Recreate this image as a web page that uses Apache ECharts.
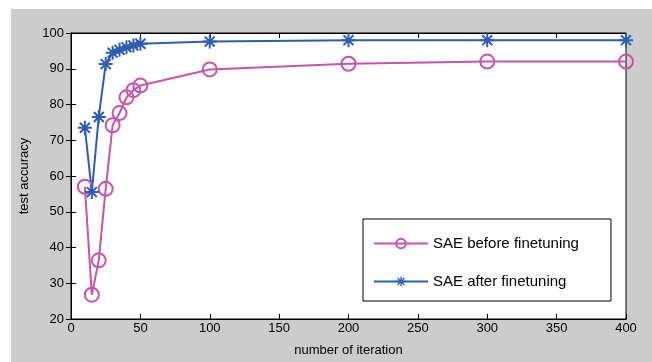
<!DOCTYPE html>
<html>
<head>
<meta charset="utf-8">
<script src="https://cdn.jsdelivr.net/npm/echarts@6/dist/echarts.min.js"></script>
<style>
  html, body { margin: 0; padding: 0; background: #fff; }
  #bg { position: absolute; left: 11px; top: 9px; width: 641px; height: 353px; background: #cccccc; }
  #chart { position: absolute; left: 0; top: 0; width: 652px; height: 362px; }
</style>
</head>
<body>
<div id="bg"></div>
<div id="chart"></div>
<script>
// values
const iterations = [10, 15, 20, 25, 30, 35, 40, 45, 50, 100, 200, 300, 400];
const beforeFinetune = [57, 26.8, 36.4, 56.4, 74.2, 77.6, 82, 84, 85.3, 89.8, 91.4, 92, 92];
const afterFinetune = [73.5, 55.5, 76.5, 91.3, 94.5, 95.3, 96, 96.5, 97, 97.6, 98, 98, 98];
const xTicks = [0, 400, 50];
const yTicks = [20, 100, 10];

const font = 'Liberation Sans, Arial, sans-serif';
// matlab style asterisk, 8 arms
const star = 'path://M8.6 0L11.4 0L11.4 20L8.6 20Z M0 8.6L20 8.6L20 11.4L0 11.4Z M1.9 3.9L3.9 1.9L18.1 16.1L16.1 18.1Z M16.1 1.9L18.1 3.9L3.9 18.1L1.9 16.1Z';

function pairs(ys) {
  return iterations.map(function (x, i) { return [x, ys[i]]; });
}

let chart = echarts.init(document.getElementById('chart'));

let tickAxis = {
  axisLine: { show: true, lineStyle: { color: '#000', width: 1 } },
  axisTick: { show: true, inside: true, length: 5, lineStyle: { color: '#000' } },
  splitLine: { show: false }
};

chart.setOption({
  animation: false,
  backgroundColor: 'transparent',
  grid: {
    left: 71, top: 33, width: 555, height: 288,
    show: true, backgroundColor: '#fff', borderColor: '#000', borderWidth: 1
  },
  legend: {
    orient: 'vertical',
    left: 363, top: 219,
    padding: [17, 32, 12, 10],
    itemWidth: 54, itemHeight: 12, itemGap: 23,
    backgroundColor: '#fff', borderColor: '#000', borderWidth: 1,
    textStyle: { fontFamily: font, fontSize: 15, color: '#000' },
    data: ['SAE before finetuning', 'SAE after finetuning']
  },
  xAxis: [
    Object.assign({}, tickAxis, {
      type: 'value', min: xTicks[0], max: xTicks[1], interval: xTicks[2],
      name: 'number of iteration', nameLocation: 'middle', nameGap: 25,
      nameTextStyle: { fontFamily: font, fontSize: 13, color: '#000' },
      axisLabel: { fontFamily: font, fontSize: 13, color: '#000', margin: 3 }
    }),
    Object.assign({}, tickAxis, {
      type: 'value', position: 'top', min: xTicks[0], max: xTicks[1], interval: xTicks[2],
      axisLabel: { show: false }
    })
  ],
  yAxis: [
    Object.assign({}, tickAxis, {
      type: 'value', min: yTicks[0], max: yTicks[1], interval: yTicks[2],
      name: 'test accuracy', nameLocation: 'middle', nameGap: 40,
      nameTextStyle: { fontFamily: font, fontSize: 13, color: '#000' },
      axisLabel: { fontFamily: font, fontSize: 13, color: '#000', margin: 7 }
    }),
    Object.assign({}, tickAxis, {
      type: 'value', position: 'right', min: yTicks[0], max: yTicks[1], interval: yTicks[2],
      axisLabel: { show: false }
    })
  ],
  series: [
    {
      name: 'SAE before finetuning',
      type: 'line',
      data: pairs(beforeFinetune),
      symbol: 'circle',
      symbolSize: 14,
      color: '#c852ad',
      lineStyle: { width: 2, color: '#c852ad' },
      itemStyle: { color: 'rgba(0,0,0,0)', borderColor: '#c852ad', borderWidth: 2 }
    },
    {
      name: 'SAE after finetuning',
      type: 'line',
      data: pairs(afterFinetune),
      symbol: star,
      symbolSize: 14,
      color: '#2c5cb6',
      lineStyle: { width: 2, color: '#2c5cb6' },
      itemStyle: { color: '#2c5cb6' }
    }
  ]
});
</script>
</body>
</html>
